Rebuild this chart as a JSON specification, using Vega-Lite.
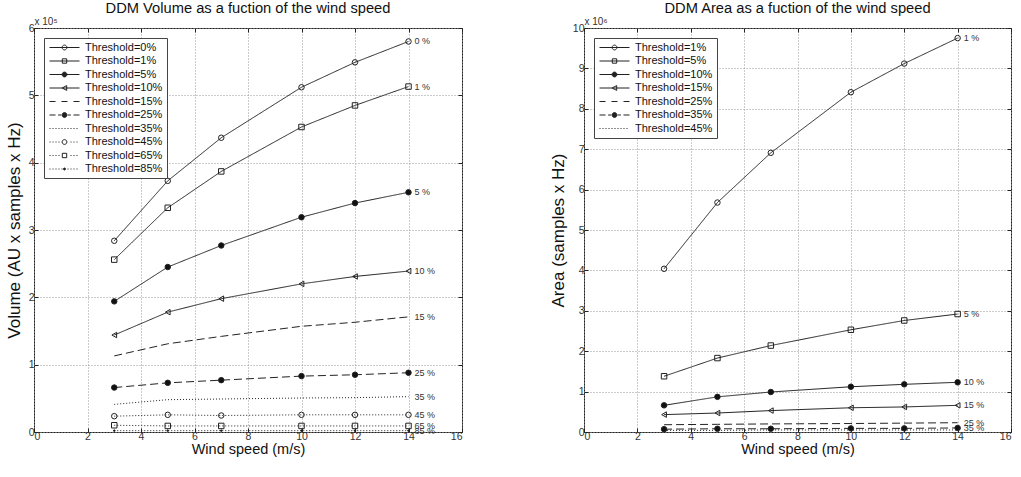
{
"$schema": "https://vega.github.io/schema/vega-lite/v6.json",
"padding": {"left": 4, "top": 0, "right": 0, "bottom": 0},
"spacing": 85,
"background": "white",
"resolve": {"scale": {"shape": "independent", "fill": "independent", "strokeDash": "independent"}, "legend": {"shape": "independent", "fill": "independent", "strokeDash": "independent"}},
"config": {
  "font": "Liberation Sans",
  "view": {"stroke": "#222", "strokeWidth": 1},
  "axis": {"grid": true, "gridColor": "#999", "gridDash": [1, 2], "gridOpacity": 1, "domain": false, "tickColor": "#222", "tickSize": -4, "labelFontSize": 10.5, "labelColor": "#333", "titleFontSize": 14.5, "titleFontWeight": "normal", "titleColor": "#111", "labelPadding": 3},
  "title": {"fontSize": 14.7, "fontWeight": "normal", "color": "#111", "offset": 1},
  "legend": {"orient": "top-left", "offset": 10, "padding": 4, "strokeColor": "#444", "fillColor": "white", "labelFontSize": 11, "labelColor": "#111", "symbolSize": 64, "symbolOffset": 11, "labelOffset": 15, "rowPadding": 1.5, "title": null, "labelLimit": 200, "symbolStrokeWidth": 1, "symbolOpacity": 1}
},
"datasets": {
  "vol": [
    {"t": "Threshold=0%", "x": 3, "y": 284000}, {"t": "Threshold=0%", "x": 5, "y": 373000}, {"t": "Threshold=0%", "x": 7, "y": 437000}, {"t": "Threshold=0%", "x": 10, "y": 512000}, {"t": "Threshold=0%", "x": 12, "y": 549000}, {"t": "Threshold=0%", "x": 14, "y": 580000},
    {"t": "Threshold=1%", "x": 3, "y": 256000}, {"t": "Threshold=1%", "x": 5, "y": 333000}, {"t": "Threshold=1%", "x": 7, "y": 387000}, {"t": "Threshold=1%", "x": 10, "y": 453000}, {"t": "Threshold=1%", "x": 12, "y": 485000}, {"t": "Threshold=1%", "x": 14, "y": 513000},
    {"t": "Threshold=5%", "x": 3, "y": 194000}, {"t": "Threshold=5%", "x": 5, "y": 245000}, {"t": "Threshold=5%", "x": 7, "y": 277000}, {"t": "Threshold=5%", "x": 10, "y": 319000}, {"t": "Threshold=5%", "x": 12, "y": 340000}, {"t": "Threshold=5%", "x": 14, "y": 356000},
    {"t": "Threshold=10%", "x": 3, "y": 144000}, {"t": "Threshold=10%", "x": 5, "y": 178000}, {"t": "Threshold=10%", "x": 7, "y": 198000}, {"t": "Threshold=10%", "x": 10, "y": 220000}, {"t": "Threshold=10%", "x": 12, "y": 231000}, {"t": "Threshold=10%", "x": 14, "y": 239000},
    {"t": "Threshold=15%", "x": 3, "y": 113000}, {"t": "Threshold=15%", "x": 5, "y": 131000}, {"t": "Threshold=15%", "x": 7, "y": 142000}, {"t": "Threshold=15%", "x": 10, "y": 157000}, {"t": "Threshold=15%", "x": 12, "y": 163000}, {"t": "Threshold=15%", "x": 14, "y": 171000},
    {"t": "Threshold=25%", "x": 3, "y": 66000}, {"t": "Threshold=25%", "x": 5, "y": 73000}, {"t": "Threshold=25%", "x": 7, "y": 77000}, {"t": "Threshold=25%", "x": 10, "y": 83000}, {"t": "Threshold=25%", "x": 12, "y": 85000}, {"t": "Threshold=25%", "x": 14, "y": 88000},
    {"t": "Threshold=35%", "x": 3, "y": 41000}, {"t": "Threshold=35%", "x": 5, "y": 48000}, {"t": "Threshold=35%", "x": 7, "y": 49000}, {"t": "Threshold=35%", "x": 10, "y": 50500}, {"t": "Threshold=35%", "x": 12, "y": 51000}, {"t": "Threshold=35%", "x": 14, "y": 52500},
    {"t": "Threshold=45%", "x": 3, "y": 23500}, {"t": "Threshold=45%", "x": 5, "y": 25500}, {"t": "Threshold=45%", "x": 7, "y": 24500}, {"t": "Threshold=45%", "x": 10, "y": 25500}, {"t": "Threshold=45%", "x": 12, "y": 25500}, {"t": "Threshold=45%", "x": 14, "y": 25500},
    {"t": "Threshold=65%", "x": 3, "y": 10000}, {"t": "Threshold=65%", "x": 5, "y": 9000}, {"t": "Threshold=65%", "x": 7, "y": 9000}, {"t": "Threshold=65%", "x": 10, "y": 9000}, {"t": "Threshold=65%", "x": 12, "y": 9000}, {"t": "Threshold=65%", "x": 14, "y": 9000},
    {"t": "Threshold=85%", "x": 3, "y": 2000}, {"t": "Threshold=85%", "x": 5, "y": 2000}, {"t": "Threshold=85%", "x": 7, "y": 2000}, {"t": "Threshold=85%", "x": 10, "y": 2000}, {"t": "Threshold=85%", "x": 12, "y": 2000}, {"t": "Threshold=85%", "x": 14, "y": 2000}
  ],
  "area": [
    {"t": "Threshold=1%", "x": 3, "y": 4040000}, {"t": "Threshold=1%", "x": 5, "y": 5680000}, {"t": "Threshold=1%", "x": 7, "y": 6910000}, {"t": "Threshold=1%", "x": 10, "y": 8410000}, {"t": "Threshold=1%", "x": 12, "y": 9120000}, {"t": "Threshold=1%", "x": 14, "y": 9750000},
    {"t": "Threshold=5%", "x": 3, "y": 1380000}, {"t": "Threshold=5%", "x": 5, "y": 1830000}, {"t": "Threshold=5%", "x": 7, "y": 2140000}, {"t": "Threshold=5%", "x": 10, "y": 2530000}, {"t": "Threshold=5%", "x": 12, "y": 2760000}, {"t": "Threshold=5%", "x": 14, "y": 2920000},
    {"t": "Threshold=10%", "x": 3, "y": 660000}, {"t": "Threshold=10%", "x": 5, "y": 870000}, {"t": "Threshold=10%", "x": 7, "y": 990000}, {"t": "Threshold=10%", "x": 10, "y": 1120000}, {"t": "Threshold=10%", "x": 12, "y": 1180000}, {"t": "Threshold=10%", "x": 14, "y": 1230000},
    {"t": "Threshold=15%", "x": 3, "y": 430000}, {"t": "Threshold=15%", "x": 5, "y": 470000}, {"t": "Threshold=15%", "x": 7, "y": 530000}, {"t": "Threshold=15%", "x": 10, "y": 600000}, {"t": "Threshold=15%", "x": 12, "y": 620000}, {"t": "Threshold=15%", "x": 14, "y": 660000},
    {"t": "Threshold=25%", "x": 3, "y": 180000}, {"t": "Threshold=25%", "x": 5, "y": 190000}, {"t": "Threshold=25%", "x": 7, "y": 200000}, {"t": "Threshold=25%", "x": 10, "y": 210000}, {"t": "Threshold=25%", "x": 12, "y": 220000}, {"t": "Threshold=25%", "x": 14, "y": 230000},
    {"t": "Threshold=35%", "x": 3, "y": 70000}, {"t": "Threshold=35%", "x": 5, "y": 80000}, {"t": "Threshold=35%", "x": 7, "y": 80000}, {"t": "Threshold=35%", "x": 10, "y": 90000}, {"t": "Threshold=35%", "x": 12, "y": 90000}, {"t": "Threshold=35%", "x": 14, "y": 100000},
    {"t": "Threshold=45%", "x": 3, "y": 40000}, {"t": "Threshold=45%", "x": 5, "y": 40000}, {"t": "Threshold=45%", "x": 7, "y": 50000}, {"t": "Threshold=45%", "x": 10, "y": 50000}, {"t": "Threshold=45%", "x": 12, "y": 50000}, {"t": "Threshold=45%", "x": 14, "y": 50000}
  ]
},
"hconcat": [
  {
    "width": 428, "height": 404,
    "title": "DDM Volume as a fuction of the wind speed",
    "data": {"name": "vol"},
    "transform": [{"calculate": "replace(replace(datum.t, 'Threshold=', ''), '%', ' %')", "as": "lab"}],
    "resolve": {"axis": {"x": "independent", "y": "independent"}, "scale": {"shape": "independent", "fill": "independent"}, "legend": {"shape": "independent", "fill": "independent"}},
    "layer": [
      {
        "mark": {"type": "line", "strokeWidth": 1, "color": "#222"},
        "encoding": {
          "x": {"field": "x", "type": "quantitative", "scale": {"domain": [0, 16], "nice": false}, "axis": {"title": "Wind speed (m/s)", "values": [0, 2, 4, 6, 8, 10, 12, 14, 16], "titlePadding": 1}},
          "y": {"field": "y", "type": "quantitative", "scale": {"domain": [0, 600000], "nice": false}, "axis": {"title": "Volume (AU x samples x Hz)", "titleFontSize": 17, "values": [0, 100000, 200000, 300000, 400000, 500000, 600000], "labelExpr": "datum.value / 100000", "titlePadding": 5, "labelPadding": 4}},
          "detail": {"field": "t"},
          "strokeDash": {"field": "t", "type": "nominal", "legend": null, "scale": {"domain": ["Threshold=85%", "Threshold=65%", "Threshold=45%", "Threshold=35%", "Threshold=25%", "Threshold=15%", "Threshold=10%", "Threshold=5%", "Threshold=1%", "Threshold=0%"], "range": [[1, 2], [1, 2], [1, 2], [1, 2], [8, 4], [8, 4], [1, 0], [1, 0], [1, 0], [1, 0]]}}
        }
      },
      {
        "mark": {"type": "point", "size": 30, "strokeWidth": 1, "stroke": "#222", "opacity": 1},
        "encoding": {
          "x": {"field": "x", "type": "quantitative", "axis": {"orient": "top", "title": "x 10⁵", "labels": false, "grid": false, "values": [0, 2, 4, 6, 8, 10, 12, 14, 16], "titleAnchor": "start", "titleAlign": "left", "titleFontSize": 10, "titlePadding": 1, "titleColor": "#333"}},
          "y": {"field": "y", "type": "quantitative", "axis": {"orient": "right", "title": null, "labels": false, "grid": false, "values": [0, 100000, 200000, 300000, 400000, 500000, 600000]}},
          "shape": {"field": "t", "type": "nominal", "legend": null,
            "scale": {"domain": ["Threshold=85%", "Threshold=65%", "Threshold=45%", "Threshold=35%", "Threshold=25%", "Threshold=15%", "Threshold=10%", "Threshold=5%", "Threshold=1%", "Threshold=0%"], "range": ["M-0.3,0A0.3,0.3 0 1,0 0.3,0A0.3,0.3 0 1,0 -0.3,0Z", "square", "circle", "M0,0", "circle", "M0,0", "triangle-left", "circle", "square", "circle"]}},
          "fill": {"field": "t", "type": "nominal", "legend": null, "scale": {"domain": ["Threshold=85%", "Threshold=65%", "Threshold=45%", "Threshold=35%", "Threshold=25%", "Threshold=15%", "Threshold=10%", "Threshold=5%", "Threshold=1%", "Threshold=0%"], "range": ["#111", "transparent", "transparent", "transparent", "#111", "transparent", "transparent", "#111", "transparent", "transparent"]}}
        }
      },
      {
        "transform": [{"filter": "datum.x < 0"}],
        "mark": {"type": "point", "stroke": "#222", "strokeWidth": 1, "opacity": 1},
        "encoding": {
          "x": {"field": "x", "type": "quantitative", "axis": null},
          "y": {"field": "y", "type": "quantitative", "axis": null},
          "shape": {"field": "t", "type": "nominal", "legend": {},
            "scale": {"domain": ["Threshold=0%", "Threshold=1%", "Threshold=5%", "Threshold=10%", "Threshold=15%", "Threshold=25%", "Threshold=35%", "Threshold=45%", "Threshold=65%", "Threshold=85%"],
              "range": ["M-3.75,0H3.75M-0.6,0A0.6,0.6 0 1,0 0.6,0A0.6,0.6 0 1,0 -0.6,0Z", "M-3.75,0H3.75M-0.55,-0.55H0.55V0.55H-0.55Z", "M-3.75,0H3.75M-0.6,0A0.6,0.6 0 1,0 0.6,0A0.6,0.6 0 1,0 -0.6,0Z", "M-3.75,0H3.75M-0.6,0L0.55,-0.6V0.6Z", "M-3.75,0H-2.25M-0.75,0H0.75M2.25,0H3.75", "M-3.75,0H-2.25M2.25,0H3.75M-1.6,0H-0.8M0.8,0H1.6M-0.6,0A0.6,0.6 0 1,0 0.6,0A0.6,0.6 0 1,0 -0.6,0Z", "M-3.75,0H-3.5M-3,0H-2.75M-2.25,0H-2M-1.5,0H-1.25M-0.75,0H-0.5M0,0H0.25M0.75,0H1M1.5,0H1.75M2.25,0H2.5M3,0H3.25", "M-3.75,0H-3.5M-3,0H-2.75M-2.25,0H-2M-1.5,0H-1.25M1.5,0H1.75M2.25,0H2.5M3,0H3.25M-0.6,0A0.6,0.6 0 1,0 0.6,0A0.6,0.6 0 1,0 -0.6,0Z", "M-3.75,0H-3.5M-3,0H-2.75M-2.25,0H-2M-1.5,0H-1.25M1.5,0H1.75M2.25,0H2.5M3,0H3.25M-0.55,-0.55H0.55V0.55H-0.55Z", "M-3.75,0H-3.5M-3,0H-2.75M-2.25,0H-2M-1.5,0H-1.25M-0.75,0H-0.5M0.75,0H1M1.5,0H1.75M2.25,0H2.5M3,0H3.25M-0.25,0A0.25,0.25 0 1,0 0.25,0A0.25,0.25 0 1,0 -0.25,0Z"]}},
          "fill": {"field": "t", "type": "nominal", "legend": {},
            "scale": {"domain": ["Threshold=0%", "Threshold=1%", "Threshold=5%", "Threshold=10%", "Threshold=15%", "Threshold=25%", "Threshold=35%", "Threshold=45%", "Threshold=65%", "Threshold=85%"], "range": ["transparent", "transparent", "#222", "transparent", "transparent", "#222", "transparent", "transparent", "transparent", "#222"]}}
        }
      },
      {
        "transform": [{"filter": "datum.x == 14"}],
        "mark": {"type": "text", "align": "left", "baseline": "middle", "dx": 6, "fontSize": 9, "color": "#333"},
        "encoding": {
          "x": {"field": "x", "type": "quantitative", "axis": null},
          "y": {"field": "y", "type": "quantitative", "axis": null},
          "text": {"field": "lab"}
        }
      }
    ]
  },
  {
    "width": 427, "height": 404,
    "title": "DDM Area as a fuction of the wind speed",
    "data": {"name": "area"},
    "transform": [{"calculate": "replace(replace(datum.t, 'Threshold=', ''), '%', ' %')", "as": "lab"}],
    "resolve": {"axis": {"x": "independent", "y": "independent"}, "scale": {"shape": "independent", "fill": "independent"}, "legend": {"shape": "independent", "fill": "independent"}},
    "layer": [
      {
        "mark": {"type": "line", "strokeWidth": 1, "color": "#222"},
        "encoding": {
          "x": {"field": "x", "type": "quantitative", "scale": {"domain": [0, 16], "nice": false}, "axis": {"title": "Wind speed (m/s)", "values": [0, 2, 4, 6, 8, 10, 12, 14, 16], "titlePadding": 1}},
          "y": {"field": "y", "type": "quantitative", "scale": {"domain": [0, 10000000], "nice": false}, "axis": {"title": "Area (samples x Hz)", "titleFontSize": 17, "values": [0, 1000000, 2000000, 3000000, 4000000, 5000000, 6000000, 7000000, 8000000, 9000000, 10000000], "labelExpr": "datum.value / 1000000", "titlePadding": 5, "labelPadding": 4}},
          "detail": {"field": "t"},
          "strokeDash": {"field": "t", "type": "nominal", "legend": null, "scale": {"domain": ["Threshold=45%", "Threshold=35%", "Threshold=25%", "Threshold=15%", "Threshold=10%", "Threshold=5%", "Threshold=1%"], "range": [[1, 2], [8, 4], [8, 4], [1, 0], [1, 0], [1, 0], [1, 0]]}}
        }
      },
      {
        "mark": {"type": "point", "size": 30, "strokeWidth": 1, "stroke": "#222", "opacity": 1},
        "encoding": {
          "x": {"field": "x", "type": "quantitative", "axis": {"orient": "top", "title": "x 10⁶", "labels": false, "grid": false, "values": [0, 2, 4, 6, 8, 10, 12, 14, 16], "titleAnchor": "start", "titleAlign": "left", "titleFontSize": 10, "titlePadding": 1, "titleColor": "#333"}},
          "y": {"field": "y", "type": "quantitative", "axis": {"orient": "right", "title": null, "labels": false, "grid": false, "values": [0, 1000000, 2000000, 3000000, 4000000, 5000000, 6000000, 7000000, 8000000, 9000000, 10000000]}},
          "shape": {"field": "t", "type": "nominal", "legend": null,
            "scale": {"domain": ["Threshold=45%", "Threshold=35%", "Threshold=25%", "Threshold=15%", "Threshold=10%", "Threshold=5%", "Threshold=1%"], "range": ["M0,0", "circle", "M0,0", "triangle-left", "circle", "square", "circle"]}},
          "fill": {"field": "t", "type": "nominal", "legend": null, "scale": {"domain": ["Threshold=45%", "Threshold=35%", "Threshold=25%", "Threshold=15%", "Threshold=10%", "Threshold=5%", "Threshold=1%"], "range": ["transparent", "#111", "transparent", "transparent", "#111", "transparent", "transparent"]}}
        }
      },
      {
        "transform": [{"filter": "datum.x < 0"}],
        "mark": {"type": "point", "stroke": "#222", "strokeWidth": 1, "opacity": 1},
        "encoding": {
          "x": {"field": "x", "type": "quantitative", "axis": null},
          "y": {"field": "y", "type": "quantitative", "axis": null},
          "shape": {"field": "t", "type": "nominal", "legend": {},
            "scale": {"domain": ["Threshold=1%", "Threshold=5%", "Threshold=10%", "Threshold=15%", "Threshold=25%", "Threshold=35%", "Threshold=45%"],
              "range": ["M-3.75,0H3.75M-0.6,0A0.6,0.6 0 1,0 0.6,0A0.6,0.6 0 1,0 -0.6,0Z", "M-3.75,0H3.75M-0.55,-0.55H0.55V0.55H-0.55Z", "M-3.75,0H3.75M-0.6,0A0.6,0.6 0 1,0 0.6,0A0.6,0.6 0 1,0 -0.6,0Z", "M-3.75,0H3.75M-0.6,0L0.55,-0.6V0.6Z", "M-3.75,0H-2.25M-0.75,0H0.75M2.25,0H3.75", "M-3.75,0H-2.25M2.25,0H3.75M-1.6,0H-0.8M0.8,0H1.6M-0.6,0A0.6,0.6 0 1,0 0.6,0A0.6,0.6 0 1,0 -0.6,0Z", "M-3.75,0H-3.5M-3,0H-2.75M-2.25,0H-2M-1.5,0H-1.25M-0.75,0H-0.5M0,0H0.25M0.75,0H1M1.5,0H1.75M2.25,0H2.5M3,0H3.25"]}},
          "fill": {"field": "t", "type": "nominal", "legend": {},
            "scale": {"domain": ["Threshold=1%", "Threshold=5%", "Threshold=10%", "Threshold=15%", "Threshold=25%", "Threshold=35%", "Threshold=45%"], "range": ["transparent", "transparent", "#222", "transparent", "transparent", "#222", "transparent"]}}
        }
      },
      {
        "transform": [{"filter": "datum.x == 14 && datum.t != 'Threshold=45%'"}],
        "mark": {"type": "text", "align": "left", "baseline": "middle", "dx": 6, "fontSize": 9, "color": "#333"},
        "encoding": {
          "x": {"field": "x", "type": "quantitative", "axis": null},
          "y": {"field": "y", "type": "quantitative", "axis": null},
          "text": {"field": "lab"}
        }
      }
    ]
  }
]
}
